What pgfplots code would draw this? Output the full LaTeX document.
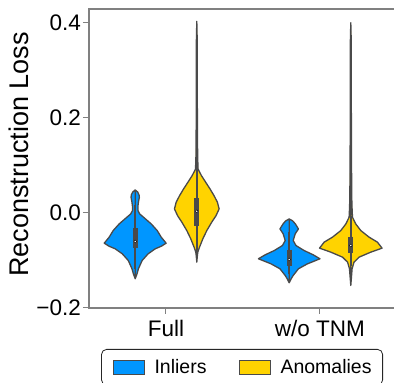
\documentclass[border=0pt]{standalone}
\usepackage{fontspec}
\setmainfont{Liberation Sans}
\usepackage{pgfplots}
\usepackage{pgfplotstable}
\pgfplotsset{compat=1.18}
\usepgfplotslibrary{fillbetween}
\usetikzlibrary{calc}
\definecolor{inl}{HTML}{0096FF}
\definecolor{ano}{HTML}{FFD300}
\definecolor{edge}{HTML}{4A4A4A}
\definecolor{spine}{HTML}{808080}

% violin profiles: y value, half width (axis x units)
\pgfplotstableread{
y w
0.0483 0
0.0440 0.016
0.0380 0.025
0.0329 0.027
0.0225 0.021
0.0147 0.018
0.0048 0.018
-0.0021 0.029
-0.0090 0.054
-0.0231 0.104
-0.0371 0.143
-0.0510 0.169
-0.0636 0.201
-0.0700 0.170
-0.0755 0.130
-0.0860 0.084
-0.1001 0.045
-0.1175 0.021
-0.1280 0.012
-0.1385 0
}\fullin
\pgfplotstableread{
y w
0.4030 0
0.3650 0.0026
0.2390 0.0033
0.1550 0.0045
0.1130 0.0060
0.0920 0.0085
0.0783 0.0305
0.0644 0.058
0.0504 0.086
0.0363 0.112
0.0225 0.134
0.0084 0.145
-0.0057 0.125
-0.0195 0.097
-0.0371 0.065
-0.0546 0.039
-0.0720 0.0175
-0.0825 0.0065
-0.0923 0.003
-0.1035 0
}\fullano
\pgfplotstableread{
y w
-0.0126 0
-0.0168 0.023
-0.0231 0.040
-0.0336 0.060
-0.0441 0.039
-0.0581 0.026
-0.0686 0.044
-0.0791 0.097
-0.0881 0.156
-0.0965 0.200
-0.1070 0.119
-0.1175 0.060
-0.1316 0.026
-0.1385 0.013
-0.1469 0
}\woin
\pgfplotstableread{
y w
0.4002 0
0.3650 0.0026
0.2390 0.0033
0.1130 0.0045
0.0294 0.0065
0.0084 0.0085
-0.0090 0.011
-0.0231 0.032
-0.0371 0.065
-0.0510 0.119
-0.0615 0.173
-0.0741 0.203
-0.0825 0.130
-0.0930 0.054
-0.1035 0.021
-0.1175 0.0085
-0.1343 0.0045
-0.1526 0
}\woano

\begin{document}
\begin{tikzpicture}
\begin{axis}[
  name=ax,
  scale only axis,
  width=308pt, height=299pt,
  xmin=-0.5, xmax=1.5,
  ymin=-0.2, ymax=0.429,
  xtick={0,1}, xticklabels={Full, w/o TNM},
  ytick={-0.2,0,0.2,0.4}, yticklabels={−0.2,0.0,0.2,0.4},
  tick pos=left, tick align=outside,
  major tick length=6pt,
  tick style={spine, line width=1pt},
  axis line style={spine, line width=1.2pt},
  ticklabel style={font=\fontsize{22.5}{26}\selectfont, inner sep=0pt},
  yticklabel style={xshift=-2pt},
  xticklabel style={yshift=-6pt},
  ylabel={Reconstruction Loss},
  every axis y label/.style={at={(rel axis cs:0,0.5)}, rotate=90, anchor=north, inner sep=0pt, yshift=80pt, xshift=4pt, font=\fontsize{27}{32}\selectfont},
  legend columns=2,
  legend style={
    at={(0.497,0)}, anchor=north, yshift=-41pt,
    draw=black!85, rounded corners=5pt, line width=0.8pt,
    inner xsep=11pt, inner ysep=10pt,
    nodes={inner sep=0pt},
    font=\fontsize{19.5}{23}\selectfont,
    /tikz/every odd column/.append style={column sep=10pt},
    /tikz/every even column/.append style={column sep=32pt},
  },
]
\addlegendimage{legend image code/.code={\draw[sharp corners, fill=inl, draw=edge, line width=1pt] (0pt,-7pt) rectangle (31pt,7pt);}}
\addlegendentry{Inliers}
\addlegendimage{legend image code/.code={\draw[sharp corners, fill=ano, draw=edge, line width=1pt] (0pt,-7pt) rectangle (31pt,7pt);}}
\addlegendentry{Anomalies}

% Full inliers
\addplot[forget plot, name path=a1, draw=none] table[x expr={-0.2+\thisrow{w}}, y=y]{\fullin};
\addplot[forget plot, name path=b1, draw=none] table[x expr={-0.2-\thisrow{w}}, y=y]{\fullin};
\addplot[forget plot, fill=inl, draw=edge, line width=1.3pt, line join=round] fill between[of=a1 and b1];
% Full anomalies
\addplot[forget plot, name path=a2, draw=none] table[x expr={0.2+\thisrow{w}}, y=y]{\fullano};
\addplot[forget plot, name path=b2, draw=none] table[x expr={0.2-\thisrow{w}}, y=y]{\fullano};
\addplot[forget plot, fill=ano, draw=edge, line width=1.3pt, line join=round] fill between[of=a2 and b2];
% w/o TNM inliers
\addplot[forget plot, name path=a3, draw=none] table[x expr={0.8+\thisrow{w}}, y=y]{\woin};
\addplot[forget plot, name path=b3, draw=none] table[x expr={0.8-\thisrow{w}}, y=y]{\woin};
\addplot[forget plot, fill=inl, draw=edge, line width=1.3pt, line join=round] fill between[of=a3 and b3];
% w/o TNM anomalies
\addplot[forget plot, name path=a4, draw=none] table[x expr={1.2+\thisrow{w}}, y=y]{\woano};
\addplot[forget plot, name path=b4, draw=none] table[x expr={1.2-\thisrow{w}}, y=y]{\woano};
\addplot[forget plot, fill=ano, draw=edge, line width=1.3pt, line join=round] fill between[of=a4 and b4];

% inner boxes: whiskers
\addplot[forget plot, edge, line width=1.6pt] coordinates {(-0.2,0.0174) (-0.2,-0.1175)};
\addplot[forget plot, edge, line width=1.6pt] coordinates {(0.2,0.092) (0.2,-0.079)};
\addplot[forget plot, edge, line width=1.6pt] coordinates {(0.8,-0.0405) (0.8,-0.128)};
\addplot[forget plot, edge, line width=1.6pt] coordinates {(1.2,-0.006) (1.2,-0.111)};
% quartile boxes
\addplot[forget plot, edge, line width=4.8pt] coordinates {(-0.2,-0.032) (-0.2,-0.073)};
\addplot[forget plot, edge, line width=4.8pt] coordinates {(0.2,0.031) (0.2,-0.027)};
\addplot[forget plot, edge, line width=4.8pt] coordinates {(0.8,-0.077) (0.8,-0.112)};
\addplot[forget plot, edge, line width=4.8pt] coordinates {(1.2,-0.0497) (1.2,-0.0839)};
% medians
\addplot[forget plot, only marks, mark=*, mark size=1.4pt, mark options={fill=white, draw=none}] coordinates {(-0.2,-0.060) (0.2,0.0036) (0.8,-0.098) (1.2,-0.0686)};
\end{axis}
\pgfresetboundingbox
\path[use as bounding box] ($(ax.south west)+(-89pt,-75pt)$) rectangle ($(ax.north west)+(305pt,9pt)$);
\end{tikzpicture}
\end{document}
